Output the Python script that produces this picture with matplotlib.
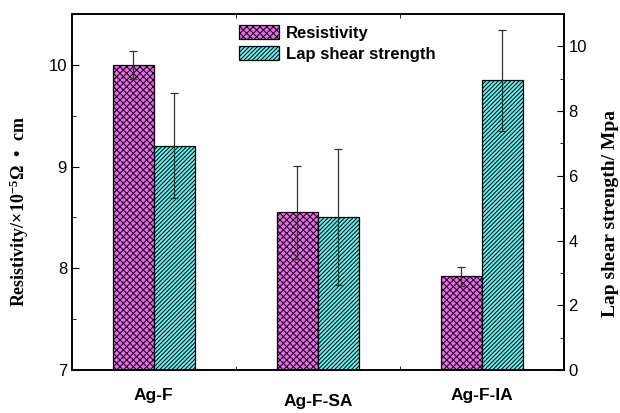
import matplotlib
matplotlib.use("Agg")
import matplotlib.pyplot as plt
import matplotlib.transforms as mtransforms
import numpy as np

categories = ["Ag-F", "Ag-F-SA", "Ag-F-IA"]
resistivity = [10.0, 8.55, 7.92]
resistivity_err = [0.14, 0.46, 0.09]
lap_shear = [6.93, 4.74, 8.95]
lap_shear_err = [1.62, 2.10, 1.57]

plt.rcParams['mathtext.fontset'] = 'custom'
plt.rcParams['mathtext.rm'] = 'Liberation Serif:bold'
plt.rcParams['mathtext.it'] = 'Liberation Serif:bold'
plt.rcParams['mathtext.bf'] = 'Liberation Serif:bold'
plt.rcParams['hatch.linewidth'] = 0.7

fig = plt.figure(figsize=(6.2, 4.13), dpi=100)
ax = fig.add_axes([0.116, 0.104, 0.793, 0.862])
ax2 = ax.twinx()

x = np.arange(len(categories))
w = 0.25
mag = '#EE66EE'
cya = '#66EEEE'

b1 = ax.bar(x - w / 2, resistivity, w, color=mag, edgecolor='black', linewidth=0.9,
            hatch='xxxxx', label='Resistivity', zorder=2)
ax.errorbar(x - w / 2, resistivity, yerr=resistivity_err, fmt='none', ecolor='#333333',
            elinewidth=0.9, capsize=3, capthick=0.9, zorder=3)
b2 = ax2.bar(x + w / 2, lap_shear, w, color=cya, edgecolor='black', linewidth=0.9,
             hatch='////////', label='Lap shear strength', zorder=2)
ax2.errorbar(x + w / 2, lap_shear, yerr=lap_shear_err, fmt='none', ecolor='#333333',
             elinewidth=0.9, capsize=3, capthick=0.9, zorder=3)

ax.set_xlim(-0.5, 2.5)
ax.set_ylim(7, 10.5)
ax2.set_ylim(0, 11)

ax.set_yticks([7, 8, 9, 10])
ax.set_yticks([7.5, 8.5, 9.5, 10.5], minor=True)
ax2.set_yticks([0, 2, 4, 6, 8, 10])
ax2.set_yticks([1, 3, 5, 7, 9, 11], minor=True)
for lab in ax.get_yticklabels() + ax2.get_yticklabels():
    lab.set_fontfamily('Liberation Sans')
    lab.set_fontsize(12)

ax.set_xticks(x)
ax.set_xticklabels(categories, fontfamily='Liberation Sans', fontweight='bold', fontsize=12.5)
ax.set_xticks([0.5, 1.5], minor=True)
ax.tick_params(axis='x', which='both', direction='in', top=True, length=3, pad=13)
ax.tick_params(axis='x', which='major', length=0)
ax.tick_params(axis='y', which='major', direction='in', length=5)
ax.tick_params(axis='y', which='minor', direction='in', length=3)
ax2.tick_params(axis='y', which='major', direction='in', length=5)
ax2.tick_params(axis='y', which='minor', direction='in', length=3)
# stagger the middle category label slightly lower
mid = ax.get_xticklabels()[1]
mid.set_transform(mid.get_transform() + mtransforms.ScaledTranslation(0, -6 / 100, fig.dpi_scale_trans))

for sp in list(ax.spines.values()) + list(ax2.spines.values()):
    sp.set_linewidth(1.2)

ax.set_ylabel(r"Resistivity/$\times$10$^{-5}$Ω  •  cm", fontfamily='Liberation Serif',
              fontweight='bold', fontsize=13)
ax.yaxis.set_label_coords(-0.083, 0.445)
ax2.set_ylabel("Lap shear strength/ Mpa", fontfamily='Liberation Serif',
               fontweight='bold', fontsize=14)
ax2.yaxis.set_label_coords(1.078, 0.44)

ax2.legend([b1, b2], ['Resistivity', 'Lap shear strength'], loc='upper left',
           bbox_to_anchor=(0.31, 1.012), frameon=False,
           prop=dict(family='Liberation Sans', weight='bold', size=12),
           handlelength=2.4, handleheight=0.95, handletextpad=0.4, labelspacing=0.3)

fig.savefig('out.png', dpi=100)
